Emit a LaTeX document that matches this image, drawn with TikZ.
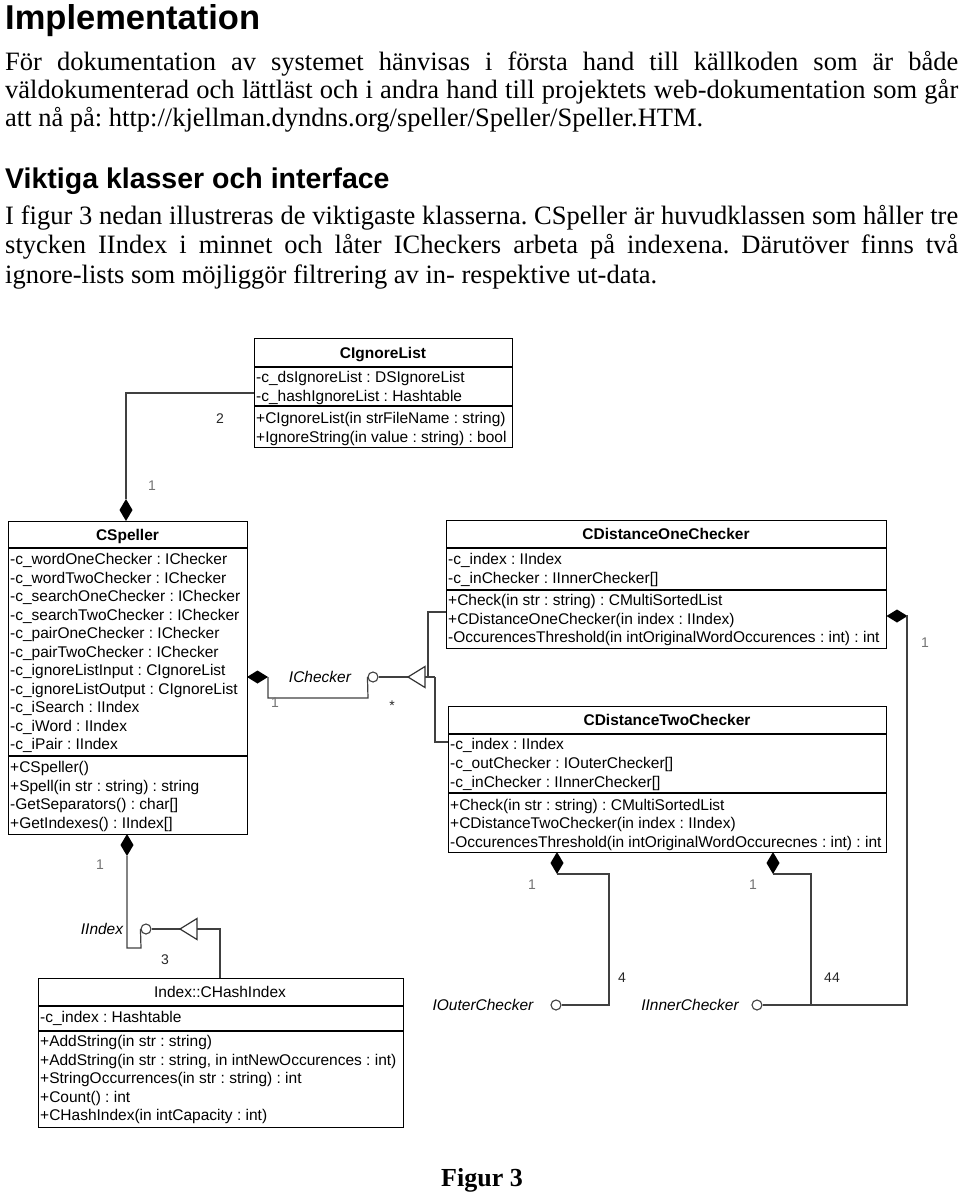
\documentclass[tikz,border=0pt]{standalone}
\usepackage{fontspec}
\setmainfont{Liberation Serif}
\newfontfamily\dsans{Liberation Sans}
\frenchspacing
\begin{document}
\begin{tikzpicture}[x=1pt,y=-1pt,
  boxst/.style={draw=black, line width=1.2pt, inner sep=0pt, anchor=north west},
  ln/.style={font=\dsans\fontsize{15.5}{18}\selectfont, inner sep=0pt, anchor=west, text height=11pt, text depth=0pt},
  ttl/.style={font=\dsans\bfseries\fontsize{15.5}{18}\selectfont, inner sep=0pt, anchor=center, text height=11pt, text depth=0pt},
  ttlr/.style={ttl, font=\dsans\fontsize{15.5}{18}\selectfont},
  conn/.style={draw=black!75, line width=1.2pt},
  sep/.style={draw=black, line width=1.2pt},
  lolli/.style={circle, draw=black!75, line width=1.1pt, fill=white, minimum size=10pt, inner sep=0pt},
  mult/.style={font=\dsans\fontsize{14}{16}\selectfont, text=black!55, inner sep=0pt},
  multd/.style={font=\dsans\fontsize{14}{16}\selectfont, text=black!85, inner sep=0pt},
  ifc/.style={font=\dsans\itshape\fontsize{15.5}{18}\selectfont, inner sep=0pt},
  body/.style={font=\frenchspacing\fontsize{26.5}{30}\selectfont, inner sep=0pt, anchor=west, text height=17.5pt, text depth=0pt},
  hd/.style={font=\dsans\bfseries, inner sep=0pt, anchor=west},
  hdia/.pic={\fill[black] (-10.5,0)--(0,-6.5)--(10.5,0)--(0,6.5)--cycle;},
  vdia/.pic={\fill[black] (0,-11)--(6.5,0)--(0,11)--(-6.5,0)--cycle;},
  ltri/.pic={\draw[black!80, line width=1.2pt, fill=white] (0,0)--(17,-10.5)--(17,10.5)--cycle;}
]
\useasboundingbox (0,0) rectangle (960,1194);

% ---------- text ----------
\node[hd, font=\dsans\bfseries\fontsize{34.5}{38}\selectfont, text height=24.7pt, text depth=0pt] (h1) at (5,17) {Implementation};
\node[body] (p1) at (5,62) {\makebox[953pt][s]{För dokumentation av systemet hänvisas i första hand till källkoden som är både}};
\node[body] (p2) at (5,90) {\makebox[953pt][s]{väldokumenterad och lättläst och i andra hand till projektets web-dokumentation som går}};
\node[body] (p3) at (5,118) {att nå på: http://kjellman.dyndns.org/speller/Speller/Speller.HTM.};
\node[hd, font=\dsans\bfseries\fontsize{28.5}{32}\selectfont, text height=20.4pt, text depth=0pt] (h2) at (5,178) {Viktiga klasser och interface};
\node[body] (q1) at (5,216) {\makebox[953pt][s]{I figur 3 nedan illustreras de viktigaste klasserna. CSpeller är huvudklassen som håller tre}};
\node[body] (q2) at (5,245) {\makebox[953pt][s]{stycken IIndex i minnet och låter ICheckers arbeta på indexena. Därutöver finns två}};
\node[body] (q3) at (5,275) {ignore-lists som möjliggör filtrering av in- respektive ut-data.};
\node[font=\bfseries\fontsize{26}{30}\selectfont, inner sep=0pt, text height=17pt, text depth=0pt] (fig) at (482,1178) {Figur 3};

% ---------- CIgnoreList ----------
\node[boxst, minimum width=258pt, minimum height=109pt] (cig) at (254,338) {};
\draw[sep] (254,367) -- (512,367);
\draw[sep] (254,406) -- (512,406);
\node[ttl] (cigt) at (383,352.5) {CIgnoreList};
\node[ln] (cig1) at (256,377) {-c\_dsIgnoreList : DSIgnoreList};
\node[ln] (cig2) at (256,396) {-c\_hashIgnoreList : Hashtable};
\node[ln] (cig3) at (256,418) {+CIgnoreList(in strFileName : string)};
\node[ln] (cig4) at (256,437) {+IgnoreString(in value : string) : bool};

% ---------- CSpeller ----------
\node[boxst, minimum width=239pt, minimum height=313pt] (csp) at (8,521) {};
\draw[sep] (8,548) -- (247,548);
\draw[sep] (8,756) -- (247,756);
\node[ttl] (cspt) at (127.5,534.5) {CSpeller};
\foreach \t [count=\i from 0] in {-c\_wordOneChecker : IChecker,-c\_wordTwoChecker : IChecker,-c\_searchOneChecker : IChecker,-c\_searchTwoChecker : IChecker,-c\_pairOneChecker : IChecker,-c\_pairTwoChecker : IChecker,-c\_ignoreListInput : CIgnoreList,-c\_ignoreListOutput : CIgnoreList,-c\_iSearch : IIndex,-c\_iWord : IIndex,-c\_iPair : IIndex}
  \node[ln] (cspa\i) at (10,559+18.5*\i) {\t};
\foreach \t [count=\i from 0] in {+CSpeller(),+Spell(in str : string) : string,-GetSeparators() : char[],+GetIndexes() : IIndex[]}
  \node[ln] (cspm\i) at (10,767+18.5*\i) {\t};

% ---------- CDistanceOneChecker ----------
\node[boxst, minimum width=440pt, minimum height=128pt] (c1) at (446,520) {};
\draw[sep] (446,548) -- (886,548);
\draw[sep] (446,590) -- (886,590);
\node[ttl] (c1t) at (666,534) {CDistanceOneChecker};
\node[ln] (c1a) at (448,559) {-c\_index : IIndex};
\node[ln] (c1b) at (448,577.5) {-c\_inChecker : IInnerChecker[]};
\node[ln] (c1c) at (448,600) {+Check(in str : string) : CMultiSortedList};
\node[ln] (c1d) at (448,618.5) {+CDistanceOneChecker(in index : IIndex)};
\node[ln] (c1e) at (448,637) {-OccurencesThreshold(in intOriginalWordOccurences : int) : int};

% ---------- CDistanceTwoChecker ----------
\node[boxst, minimum width=438pt, minimum height=146pt] (c2) at (448,706) {};
\draw[sep] (448,734) -- (886,734);
\draw[sep] (448,793) -- (886,793);
\node[ttl] (c2t) at (667,720) {CDistanceTwoChecker};
\node[ln] (c2a) at (450,744) {-c\_index : IIndex};
\node[ln] (c2b) at (450,763) {-c\_outChecker : IOuterChecker[]};
\node[ln] (c2c) at (450,781.5) {-c\_inChecker : IInnerChecker[]};
\node[ln] (c2d) at (450,805) {+Check(in str : string) : CMultiSortedList};
\node[ln] (c2e) at (450,823) {+CDistanceTwoChecker(in index : IIndex)};
\node[ln] (c2f) at (450,842) {-OccurencesThreshold(in intOriginalWordOccurecnes : int) : int};

% ---------- CHashIndex ----------
\node[boxst, minimum width=365pt, minimum height=149pt] (chi) at (38,978) {};
\draw[sep] (38,1006) -- (403,1006);
\draw[sep] (38,1031) -- (403,1031);
\node[ttlr] (chit) at (220,992) {Index::CHashIndex};
\node[ln] (chia) at (40,1017) {-c\_index : Hashtable};
\foreach \t [count=\i from 0] in {+AddString(in str : string),{+AddString(in str : string, in intNewOccurences : int)},+StringOccurrences(in str : string) : int,+Count() : int,+CHashIndex(in intCapacity : int)}
  \node[ln] (chim\i) at (40,1041+18.5*\i) {\t};

% ---------- lollipops and anchors ----------
\node[lolli] (ichk) at (373,677) {};
\node[lolli] (iidx) at (146,929) {};
\node[lolli] (iout) at (556,1005) {};
\node[lolli] (iinn) at (757,1005) {};
\coordinate (tri1) at (408,677);
\coordinate (tri1b) at (425,677);
\coordinate (tri2) at (180,929);
\coordinate (tri2b) at (197,929);

% ---------- connectors ----------
% CIgnoreList -- CSpeller
\draw[conn] (cig.west |- 0,393) -- (126,393) -- (126,499);
\pic at (126,510) {vdia};
% CSpeller -- IChecker
\pic at (257.5,677) {hdia};
\draw[conn] (268,677) -- (268,698) -- (368,698) -- (ichk.west);
\draw[conn] (ichk.east) -- (tri1);
\draw[conn] (tri1b) -- (435,677);
\draw[conn] (428,677) -- (428,612) -- (c1.west |- 0,612);
\draw[conn] (435,677) -- (435,742) -- (c2.west |- 0,742);
\pic at (tri1) {ltri};
% CSpeller -- IIndex
\pic at (127,845) {vdia};
\draw[conn] (127,856) -- (127,948) -- (141,948) -- (iidx.west);
\draw[conn] (iidx.east) -- (tri2);
\draw[conn] (tri2b) -- (220,929) -- (chi.north -| 220,0);
\pic at (tri2) {ltri};
% CDistanceTwoChecker -- IOuterChecker / IInnerChecker
\pic at (557,863) {vdia};
\draw[conn] (557,874) -- (609,874) -- (609,1005) -- (iout.east);
\pic at (773,863) {vdia};
\draw[conn] (773,874) -- (811,874) -- (811,1005);
% CDistanceOneChecker -- IInnerChecker
\pic at (897,616) {hdia};
\draw[conn] (908,616) -- (907,616) -- (907,1005) -- (iinn.east);

% ---------- labels ----------
\node[ifc] (lich) at (320,677) {IChecker};
\node[ifc] (liid) at (102,929) {IIndex};
\node[ifc] (liout) at (483,1005) {IOuterChecker};
\node[ifc] (liinn) at (690,1005) {IInnerChecker};
\node[multd] (m2) at (220,419) {2};
\node[mult] (m1a) at (152,486) {1};
\node[mult] (m1b) at (275,703) {1};
\node[multd] (mst) at (392,706) {*};
\node[mult] (m1c) at (100,865) {1};
\node[multd] (m3) at (165,960) {3};
\node[mult] (m1d) at (925,643) {1};
\node[mult] (m1e) at (532,885) {1};
\node[mult] (m1f) at (753,885) {1};
\node[multd] (m4) at (622,978) {4};
\node[multd] (m44) at (832,978) {44};
\end{tikzpicture}
\end{document}
